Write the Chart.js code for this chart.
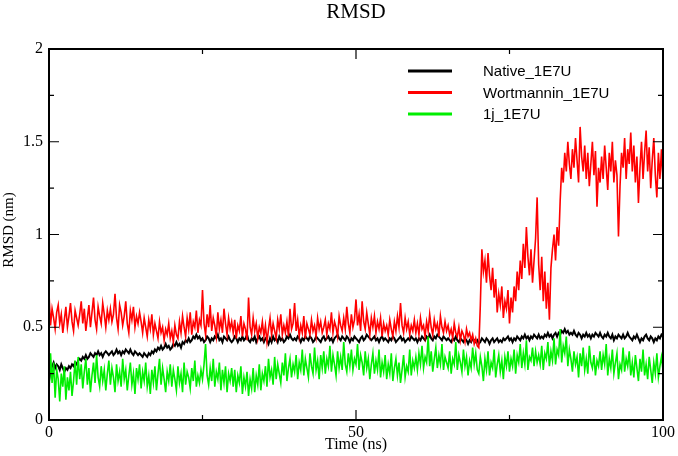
<!DOCTYPE html>
<html>
<head>
<meta charset="utf-8">
<script src="https://cdn.jsdelivr.net/npm/chart.js@4.4.0/dist/chart.umd.min.js"></script>
<style>
  html, body { margin: 0; padding: 0; background: #fff; }
</style>
</head>
<body>
<canvas id="myChart" width="678" height="456"></canvas>
<script>
// one sample every 0.25 ns, 0..100 ns
const timeStep = 0.25;
const seriesNames = ['Native_1E7U', 'Wortmannin_1E7U', '1j_1E7U'];
const seriesColors = ['#000000', '#ff0000', '#00ee00'];
const xMajorTicks = [0, 50, 100];
const xMinorTicks = [25, 75];
const yMajorTicks = [0, 0.5, 1, 1.5, 2];
const yMinorTicks = [0.25, 0.75, 1.25, 1.75];

const rmsdNative = [
    0.21,0.26,0.29,0.31,0.28,0.30,0.29,0.27,0.30,0.28,0.26,0.28,0.27,0.29,0.28,0.30,0.29,0.31,0.30,0.32,
    0.33,0.32,0.34,0.33,0.35,0.33,0.34,0.36,0.35,0.34,0.36,0.35,0.37,0.35,0.36,0.34,0.36,0.37,0.36,0.35,
    0.36,0.37,0.35,0.36,0.38,0.36,0.37,0.35,0.37,0.36,0.38,0.37,0.36,0.38,0.36,0.35,0.37,0.36,0.35,0.36,
    0.35,0.34,0.36,0.35,0.34,0.36,0.35,0.37,0.36,0.38,0.37,0.39,0.38,0.40,0.38,0.39,0.41,0.39,0.40,0.38,
    0.39,0.41,0.40,0.42,0.40,0.41,0.39,0.42,0.41,0.43,0.42,0.44,0.42,0.43,0.45,0.44,0.46,0.44,0.45,0.43,
    0.44,0.42,0.43,0.45,0.44,0.42,0.44,0.43,0.45,0.44,0.46,0.43,0.44,0.42,0.45,0.44,0.43,0.45,0.43,0.42,
    0.43,0.45,0.44,0.42,0.44,0.43,0.45,0.43,0.44,0.46,0.43,0.42,0.44,0.43,0.45,0.42,0.44,0.45,0.43,0.44,
    0.42,0.44,0.43,0.41,0.44,0.42,0.45,0.43,0.44,0.42,0.45,0.43,0.44,0.42,0.43,0.45,0.44,0.46,0.44,0.43,
    0.44,0.43,0.45,0.44,0.42,0.44,0.43,0.45,0.44,0.43,0.45,0.44,0.42,0.43,0.45,0.44,0.43,0.42,0.44,0.45,
    0.43,0.44,0.45,0.43,0.44,0.42,0.44,0.45,0.46,0.44,0.43,0.45,0.44,0.43,0.45,0.44,0.42,0.44,0.43,0.45,
    0.44,0.43,0.42,0.44,0.45,0.43,0.44,0.46,0.45,0.44,0.43,0.44,0.45,0.43,0.44,0.42,0.44,0.45,0.43,0.44,
    0.43,0.42,0.44,0.43,0.45,0.44,0.42,0.43,0.44,0.45,0.43,0.44,0.42,0.43,0.44,0.43,0.45,0.44,0.43,0.44,
    0.42,0.44,0.43,0.45,0.44,0.43,0.45,0.44,0.46,0.44,0.43,0.45,0.44,0.46,0.45,0.44,0.43,0.45,0.44,0.43,
    0.44,0.43,0.42,0.44,0.43,0.45,0.43,0.42,0.44,0.43,0.42,0.44,0.43,0.41,0.43,0.42,0.44,0.43,0.42,0.43,
    0.41,0.42,0.44,0.43,0.42,0.44,0.43,0.41,0.43,0.44,0.42,0.43,0.44,0.42,0.43,0.42,0.44,0.43,0.44,0.45,
    0.43,0.44,0.42,0.44,0.43,0.45,0.44,0.43,0.45,0.44,0.46,0.44,0.45,0.43,0.45,0.44,0.46,0.45,0.44,0.46,
    0.44,0.45,0.44,0.46,0.45,0.47,0.45,0.46,0.44,0.46,0.47,0.45,0.47,0.46,0.48,0.47,0.49,0.47,0.48,0.46,
    0.47,0.46,0.48,0.46,0.45,0.47,0.46,0.44,0.46,0.45,0.47,0.45,0.46,0.44,0.46,0.45,0.47,0.46,0.45,0.47,
    0.45,0.44,0.46,0.45,0.47,0.45,0.44,0.46,0.43,0.45,0.44,0.46,0.45,0.44,0.46,0.44,0.45,0.47,0.45,0.44,
    0.43,0.45,0.44,0.46,0.44,0.42,0.44,0.43,0.45,0.46,0.44,0.43,0.45,0.44,0.42,0.44,0.43,0.45,0.44,0.46,
    0.45
];

const rmsdWortmannin = [
    0.68,0.51,0.60,0.55,0.49,0.58,0.62,0.52,0.57,0.47,0.54,0.61,0.50,0.56,0.63,0.53,0.48,0.59,0.55,0.51,
    0.57,0.64,0.52,0.60,0.48,0.55,0.62,0.50,0.58,0.66,0.54,0.49,0.61,0.56,0.52,0.63,0.57,0.50,0.59,0.54,
    0.60,0.53,0.57,0.68,0.55,0.49,0.62,0.58,0.51,0.56,0.64,0.52,0.47,0.59,0.54,0.61,0.50,0.56,0.52,0.58,
    0.53,0.47,0.55,0.50,0.45,0.54,0.49,0.57,0.46,0.52,0.48,0.44,0.53,0.47,0.50,0.43,0.49,0.46,0.52,0.44,
    0.48,0.42,0.51,0.46,0.44,0.53,0.47,0.56,0.50,0.45,0.55,0.49,0.58,0.46,0.53,0.50,0.59,0.47,0.54,0.51,
    0.70,0.52,0.46,0.57,0.50,0.62,0.48,0.55,0.51,0.45,0.58,0.49,0.54,0.47,0.60,0.52,0.46,0.55,0.49,0.53,
    0.47,0.54,0.44,0.51,0.48,0.56,0.45,0.52,0.49,0.43,0.66,0.50,0.46,0.55,0.48,0.52,0.44,0.50,0.47,0.53,
    0.45,0.51,0.42,0.49,0.55,0.46,0.52,0.48,0.44,0.54,0.49,0.57,0.46,0.51,0.47,0.53,0.45,0.60,0.49,0.52,
    0.63,0.48,0.54,0.45,0.51,0.47,0.56,0.44,0.52,0.49,0.46,0.54,0.48,0.51,0.45,0.55,0.49,0.53,0.47,0.50,
    0.54,0.46,0.52,0.49,0.58,0.47,0.53,0.50,0.45,0.56,0.51,0.48,0.55,0.49,0.61,0.52,0.47,0.57,0.50,0.54,
    0.65,0.51,0.57,0.48,0.64,0.53,0.49,0.58,0.52,0.46,0.55,0.50,0.56,0.47,0.53,0.49,0.55,0.45,0.52,0.48,
    0.51,0.46,0.54,0.49,0.45,0.53,0.48,0.56,0.50,0.63,0.51,0.47,0.55,0.49,0.53,0.46,0.51,0.48,0.54,0.47,
    0.52,0.46,0.55,0.49,0.51,0.45,0.53,0.48,0.57,0.50,0.46,0.54,0.49,0.52,0.45,0.56,0.50,0.47,0.53,0.48,
    0.51,0.46,0.49,0.44,0.52,0.47,0.45,0.50,0.43,0.48,0.46,0.42,0.49,0.45,0.47,0.43,0.46,0.41,0.44,0.40,
    0.39,0.62,0.92,0.80,0.86,0.74,0.90,0.78,0.70,0.82,0.66,0.76,0.58,0.68,0.62,0.72,0.55,0.64,0.60,0.70,
    0.52,0.66,0.58,0.72,0.64,0.80,0.70,0.86,0.76,0.95,0.82,1.04,0.88,0.78,0.92,0.74,0.86,0.98,1.20,0.84,
    0.70,0.88,0.64,0.80,0.60,0.74,0.54,0.82,0.92,1.00,0.86,1.04,0.94,1.18,1.36,1.28,1.44,1.34,1.50,1.38,
    1.30,1.46,1.36,1.52,1.40,1.28,1.58,1.42,1.34,1.48,1.30,1.44,1.26,1.38,1.50,1.32,1.45,1.15,1.36,1.28,
    1.42,1.30,1.48,1.36,1.24,1.44,1.34,1.50,1.28,1.40,1.32,0.99,1.26,1.44,1.36,1.52,1.30,1.46,1.38,1.55,
    1.34,1.48,1.28,1.42,1.17,1.36,1.50,1.30,1.44,1.56,1.34,1.47,1.25,1.40,1.52,1.32,1.20,1.44,1.30,1.46,
    1.28
];

const rmsd1j = [
    0.14,0.36,0.20,0.31,0.12,0.27,0.22,0.10,0.25,0.18,0.29,0.11,0.23,0.16,0.26,0.13,0.21,0.32,0.19,0.34,
    0.22,0.30,0.17,0.26,0.33,0.19,0.28,0.15,0.24,0.31,0.20,0.35,0.23,0.18,0.29,0.21,0.27,0.16,0.25,0.32,
    0.19,0.28,0.23,0.15,0.30,0.21,0.26,0.18,0.33,0.22,0.27,0.16,0.24,0.31,0.19,0.25,0.14,0.28,0.22,0.30,
    0.17,0.26,0.21,0.31,0.18,0.24,0.14,0.27,0.20,0.29,0.16,0.25,0.33,0.19,0.28,0.22,0.15,0.26,0.21,0.30,
    0.18,0.27,0.22,0.16,0.29,0.20,0.25,0.15,0.31,0.19,0.26,0.23,0.17,0.28,0.21,0.32,0.18,0.24,0.20,0.27,
    0.22,0.30,0.41,0.24,0.19,0.28,0.21,0.33,0.18,0.26,0.22,0.31,0.16,0.27,0.20,0.29,0.15,0.25,0.21,0.28,
    0.18,0.27,0.15,0.24,0.20,0.29,0.14,0.23,0.18,0.26,0.13,0.22,0.17,0.28,0.15,0.24,0.19,0.30,0.16,0.25,
    0.21,0.29,0.18,0.33,0.23,0.27,0.19,0.34,0.22,0.30,0.25,0.20,0.31,0.24,0.36,0.21,0.28,0.33,0.23,0.30,
    0.26,0.35,0.22,0.31,0.27,0.38,0.24,0.33,0.28,0.23,0.36,0.29,0.25,0.39,0.27,0.32,0.22,0.35,0.28,0.37,
    0.25,0.33,0.29,0.40,0.26,0.35,0.30,0.24,0.37,0.28,0.34,0.27,0.42,0.30,0.26,0.36,0.29,0.38,0.27,0.33,
    0.30,0.41,0.27,0.35,0.31,0.24,0.37,0.28,0.33,0.22,0.30,0.36,0.25,0.32,0.27,0.38,0.23,0.31,0.26,0.35,
    0.22,0.30,0.25,0.36,0.21,0.28,0.33,0.24,0.31,0.20,0.27,0.35,0.23,0.29,0.26,0.38,0.24,0.32,0.28,0.34,
    0.27,0.36,0.30,0.40,0.28,0.34,0.31,0.45,0.29,0.37,0.26,0.33,0.39,0.28,0.35,0.30,0.41,0.27,0.34,0.31,
    0.28,0.37,0.25,0.33,0.30,0.42,0.27,0.35,0.31,0.26,0.38,0.29,0.34,0.24,0.32,0.28,0.39,0.30,0.36,0.27,
    0.25,0.34,0.29,0.21,0.33,0.27,0.37,0.24,0.31,0.28,0.38,0.23,0.30,0.35,0.26,0.32,0.22,0.34,0.29,0.37,
    0.26,0.33,0.29,0.38,0.25,0.35,0.31,0.41,0.28,0.36,0.30,0.43,0.27,0.34,0.32,0.39,0.29,0.37,0.31,0.35,
    0.30,0.40,0.27,0.36,0.33,0.42,0.29,0.37,0.32,0.44,0.30,0.38,0.35,0.49,0.31,0.40,0.36,0.45,0.29,0.38,
    0.33,0.26,0.37,0.30,0.34,0.23,0.36,0.29,0.39,0.27,0.33,0.25,0.40,0.31,0.28,0.35,0.24,0.32,0.29,0.37,
    0.27,0.35,0.30,0.41,0.24,0.33,0.28,0.38,0.25,0.31,0.36,0.22,0.30,0.27,0.39,0.26,0.33,0.29,0.37,0.24,
    0.31,0.23,0.35,0.28,0.21,0.33,0.26,0.38,0.24,0.30,0.22,0.34,0.27,0.20,0.31,0.25,0.36,0.23,0.29,0.34,
    0.27
];

function toPoints(values) {
    return values.map((v, i) => ({ x: i * timeStep, y: v }));
}

// frame, inward ticks, title, axis titles and the in-plot legend (grace style)
const gracePlugin = {
    id: 'grace',
    afterDraw(chart) {
        const { ctx, chartArea: a, scales: { x, y } } = chart;
        ctx.save();
        ctx.strokeStyle = '#000';
        ctx.lineWidth = 2;
        ctx.strokeRect(a.left, a.top, a.right - a.left, a.bottom - a.top);

        ctx.lineWidth = 1.2;
        ctx.beginPath();
        const xt = xMajorTicks.map(v => [v, 10]).concat(xMinorTicks.map(v => [v, 5]));
        for (const [v, len] of xt) {
            const px = x.getPixelForValue(v);
            ctx.moveTo(px, a.bottom); ctx.lineTo(px, a.bottom - len);
            ctx.moveTo(px, a.top); ctx.lineTo(px, a.top + len);
        }
        const yt = yMajorTicks.map(v => [v, 10]).concat(yMinorTicks.map(v => [v, 5]));
        for (const [v, len] of yt) {
            const py = y.getPixelForValue(v);
            ctx.moveTo(a.left, py); ctx.lineTo(a.left + len, py);
            ctx.moveTo(a.right, py); ctx.lineTo(a.right - len, py);
        }
        ctx.stroke();

        const midX = (a.left + a.right) / 2;
        ctx.fillStyle = '#000';
        ctx.textAlign = 'center';
        ctx.textBaseline = 'middle';
        ctx.font = '21px "Liberation Serif"';
        ctx.fillText('RMSD', midX, 12);
        ctx.font = '16px "Liberation Serif"';
        ctx.fillText('Time (ns)', midX, 445);
        ctx.save();
        ctx.translate(9, 230);
        ctx.rotate(-Math.PI / 2);
        ctx.font = '15px "Liberation Serif"';
        ctx.fillText('RMSD (nm)', 0, 0);
        ctx.restore();

        ctx.font = '15px "Liberation Sans"';
        ctx.textAlign = 'left';
        ctx.lineWidth = 3;
        seriesNames.forEach((name, i) => {
            const ly = 71 + i * 21.5;
            ctx.strokeStyle = seriesColors[i];
            ctx.beginPath();
            ctx.moveTo(408, ly); ctx.lineTo(452, ly);
            ctx.stroke();
            ctx.fillText(name, 483, ly + 1);
        });
        ctx.restore();
    }
};

const ctx = document.getElementById('myChart').getContext('2d');
const myChart = new Chart(ctx, {
    type: 'line',
    data: {
        datasets: [
            { label: seriesNames[0], data: toPoints(rmsdNative), borderColor: seriesColors[0], borderWidth: 2, order: 3 },
            { label: seriesNames[1], data: toPoints(rmsdWortmannin), borderColor: seriesColors[1], order: 2 },
            { label: seriesNames[2], data: toPoints(rmsd1j), borderColor: seriesColors[2], order: 1 }
        ]
    },
    options: {
        responsive: false,
        animation: false,
        layout: { padding: { top: 49, right: 15, left: 0, bottom: 0 } },
        elements: {
            point: { radius: 0 },
            line: { borderWidth: 1.6, tension: 0 }
        },
        scales: {
            x: {
                type: 'linear',
                min: 0,
                max: 100,
                grid: { display: false, drawTicks: false },
                border: { display: false },
                afterFit: s => { s.height = 36; },
                afterBuildTicks: s => { s.ticks = xMajorTicks.map(v => ({ value: v })); },
                ticks: {
                    padding: 3,
                    color: '#000',
                    font: { family: 'Liberation Serif', size: 16 }
                }
            },
            y: {
                min: 0,
                max: 2,
                grid: { display: false, drawTicks: false },
                border: { display: false },
                afterFit: s => { s.width = 49; },
                afterBuildTicks: s => { s.ticks = yMajorTicks.map(v => ({ value: v })); },
                ticks: {
                    padding: 6,
                    color: '#000',
                    font: { family: 'Liberation Serif', size: 16 },
                    callback: v => String(v)
                }
            }
        },
        plugins: {
            legend: { display: false },
            tooltip: { enabled: false }
        }
    },
    plugins: [gracePlugin]
});
</script>
</body>
</html>
